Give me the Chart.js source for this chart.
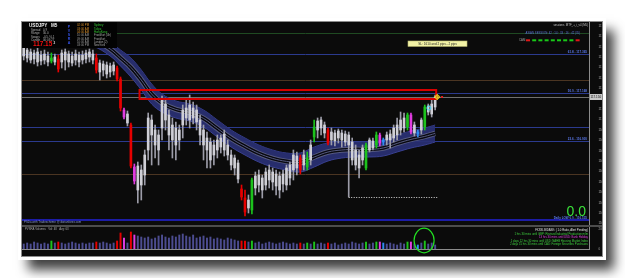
<!DOCTYPE html>
<html>
<head>
<meta charset="utf-8">
<script src="https://cdn.jsdelivr.net/npm/chart.js@4.4.1/dist/chart.umd.min.js"></script>
<style>
html, body { margin: 0; padding: 0; background: #fff; }
body { width: 625px; height: 278px; position: relative; overflow: hidden; }
#shot {
  position: absolute; left: 21px; top: 21px; width: 580px; height: 234px;
  background: #0b0b0b; border: 1px solid #8c8c8c;
  box-shadow: 0 0 0 3px #fff, 9px 11px 11px 2px rgba(0, 0, 0, 0.75);
}
#main { position: absolute; left: 0; top: 0; }
#sep { position: absolute; left: 0; top: 203px; width: 580px; height: 2px; background: #4c4c4c; }
#vol { position: absolute; left: 0; top: 205px; }
</style>
</head>
<body>
<div id="shot">
  <canvas id="main" width="580" height="203"></canvas>
  <div id="sep"></div>
  <canvas id="vol" width="580" height="29"></canvas>
</div>
<script>
// USDJPY M5, 15 Jan 2016 - candles
var opens = [
  117.395, 117.385, 117.375, 117.370, 117.375, 117.360, 117.365, 117.355, 117.330, 117.350,
  117.340, 117.370, 117.375, 117.365, 117.355, 117.365, 117.360, 117.360, 117.370, 117.375,
  117.365, 117.345, 117.320, 117.315, 117.310, 117.305, 117.310, 117.295, 117.240, 117.085,
  117.065, 117.010, 116.800, 116.805, 116.785, 116.860, 117.045, 117.035, 116.985, 116.960,
  117.135, 117.115, 117.060, 117.010, 116.995, 116.985, 117.085, 117.095, 117.110, 117.095,
  117.085, 117.035, 116.985, 116.945, 116.925, 116.910, 116.935, 116.945, 116.965, 116.910,
  116.860, 116.845, 116.820, 116.690, 116.645, 116.635, 116.585, 116.755, 116.760, 116.745,
  116.775, 116.785, 116.775, 116.765, 116.755, 116.765, 116.795, 116.810, 116.860, 116.855,
  116.845, 116.860, 116.800, 116.910, 116.950, 117.030, 117.035, 117.010, 116.985, 116.975,
  116.970, 116.980, 116.970, 116.965, 116.960, 116.925, 116.885, 116.860, 116.895, 116.795,
  116.935, 116.930, 116.910, 116.960, 116.935, 116.960, 116.965, 116.995, 117.010, 117.035,
  117.045, 117.000, 117.060, 117.010, 116.975, 117.035, 117.000, 117.105, 117.115, 117.100
];
var highs = [
  117.410, 117.400, 117.390, 117.385, 117.395, 117.380, 117.385, 117.375, 117.370, 117.365,
  117.360, 117.385, 117.390, 117.380, 117.375, 117.385, 117.375, 117.380, 117.385, 117.390,
  117.385, 117.365, 117.335, 117.330, 117.325, 117.320, 117.325, 117.305, 117.250, 117.095,
  117.080, 117.020, 116.815, 116.825, 116.810, 116.885, 117.070, 117.060, 117.010, 116.985,
  117.155, 117.145, 117.085, 117.045, 117.025, 117.010, 117.110, 117.135, 117.160, 117.125,
  117.110, 117.060, 117.010, 116.975, 116.945, 116.935, 116.960, 116.960, 116.985, 116.935,
  116.885, 116.860, 116.835, 116.710, 116.685, 116.660, 116.745, 116.775, 116.785, 116.760,
  116.795, 116.810, 116.795, 116.785, 116.775, 116.785, 116.810, 116.825, 116.885, 116.875,
  116.860, 116.885, 116.875, 116.935, 117.035, 117.045, 117.050, 117.025, 116.995, 116.995,
  116.985, 116.990, 116.985, 116.980, 116.975, 116.945, 116.910, 116.885, 116.910, 116.920,
  116.945, 116.945, 116.975, 116.970, 116.945, 116.975, 116.985, 117.010, 117.045, 117.075,
  117.070, 117.070, 117.070, 117.025, 116.985, 117.045, 117.110, 117.115, 117.135, 117.160
];
var lows = [
  117.335, 117.325, 117.320, 117.315, 117.305, 117.310, 117.315, 117.305, 117.320, 117.310,
  117.275, 117.295, 117.285, 117.300, 117.305, 117.310, 117.300, 117.315, 117.320, 117.325,
  117.315, 117.270, 117.235, 117.255, 117.245, 117.250, 117.260, 117.230, 117.080, 117.040,
  117.005, 116.795, 116.715, 116.620, 116.635, 116.710, 116.835, 116.810, 116.845, 116.810,
  116.935, 116.985, 116.885, 116.845, 116.835, 116.885, 116.945, 117.010, 116.995, 117.015,
  116.985, 116.910, 116.835, 116.795, 116.795, 116.810, 116.845, 116.870, 116.855, 116.835,
  116.785, 116.760, 116.720, 116.635, 116.555, 116.570, 116.565, 116.660, 116.675, 116.645,
  116.685, 116.695, 116.685, 116.660, 116.645, 116.675, 116.685, 116.710, 116.735, 116.760,
  116.765, 116.785, 116.785, 116.810, 116.925, 116.945, 116.960, 116.945, 116.910, 116.910,
  116.905, 116.920, 116.900, 116.905, 116.650, 116.810, 116.785, 116.745, 116.810, 116.785,
  116.875, 116.885, 116.895, 116.905, 116.910, 116.910, 116.895, 116.925, 116.935, 116.960,
  116.975, 116.985, 116.965, 116.955, 116.950, 116.965, 116.985, 117.060, 117.050, 117.085
];
var closes = [
  117.355, 117.345, 117.335, 117.340, 117.325, 117.330, 117.335, 117.325, 117.345, 117.325,
  117.290, 117.325, 117.335, 117.325, 117.320, 117.335, 117.325, 117.335, 117.340, 117.350,
  117.335, 117.285, 117.275, 117.285, 117.265, 117.275, 117.280, 117.240, 117.095, 117.050,
  117.020, 116.805, 116.730, 116.685, 116.710, 116.760, 116.885, 116.960, 116.910, 116.885,
  116.995, 117.035, 116.960, 116.935, 116.910, 116.935, 117.010, 117.045, 117.035, 117.045,
  117.025, 116.960, 116.910, 116.885, 116.835, 116.860, 116.885, 116.900, 116.885, 116.860,
  116.810, 116.795, 116.740, 116.650, 116.575, 116.595, 116.735, 116.695, 116.710, 116.685,
  116.710, 116.735, 116.725, 116.705, 116.685, 116.715, 116.710, 116.745, 116.785, 116.795,
  116.785, 116.810, 116.845, 116.835, 117.000, 116.985, 116.995, 116.970, 116.920, 116.935,
  116.930, 116.945, 116.935, 116.925, 116.910, 116.835, 116.810, 116.795, 116.835, 116.910,
  116.885, 116.895, 116.960, 116.920, 116.925, 116.935, 116.935, 116.945, 116.960, 116.985,
  116.995, 117.060, 116.975, 116.970, 116.965, 116.985, 117.100, 117.075, 117.065, 117.150
];
// PVSRA class of each bar: n normal, r/g climax, m/b rising volume
var pvsra = [
  'n','n','n','n','n','n','n','n','g','n',
  'r','n','n','n','n','n','n','n','n','n',
  'n','r','n','n','n','n','n','r','r','m',
  'n','r','m','n','n','n','n','n','n','n',
  'n','n','n','n','n','n','n','n','n','n',
  'n','n','n','n','n','n','n','n','n','n',
  'n','n','n','r','r','n','g','n','n','n',
  'n','n','n','n','n','n','n','n','n','n',
  'r','n','g','n','g','n','n','n','r','n',
  'n','n','n','n','n','n','n','n','n','g',
  'n','n','g','m','b','n','n','n','n','n',
  'n','g','m','n','b','n','g','n','n','n'
];
var volumes = [
  50, 60, 50, 70, 60, 50, 60, 50, 80, 60,
  70, 60, 50, 60, 70, 60, 50, 60, 50, 60,
  60, 70, 60, 70, 60, 50, 60, 80, 160, 110,
  60, 170, 140, 130, 120, 110, 120, 100, 110, 130,
  140, 120, 110, 130, 120, 140, 150, 130, 120, 140,
  110, 120, 130, 110, 120, 100, 110, 100, 90, 110,
  100, 90, 80, 80, 80, 70, 80, 60, 70, 50,
  60, 70, 60, 50, 60, 70, 60, 50, 60, 50,
  60, 50, 60, 50, 70, 50, 60, 50, 60, 50,
  60, 40, 50, 60, 50, 70, 60, 50, 60, 70,
  50, 60, 70, 70, 60, 50, 60, 50, 40, 60,
  50, 70, 70, 50, 40, 60, 80, 50, 60, 40
];

// moving-average envelope, sampled along the bars
var bandIdx = [0, 5, 10, 15, 20, 25, 28, 31, 34, 37, 40, 44, 48, 52, 56, 60, 64, 68, 72, 76, 80, 84, 88, 92, 96, 100, 104, 108, 112, 116, 119];
var bandUpper = [117.545, 117.535, 117.520, 117.500, 117.475, 117.425, 117.385, 117.345, 117.285, 117.215, 117.165, 117.130, 117.115, 117.085, 117.035, 116.985, 116.945, 116.910, 116.885, 116.870, 116.870, 116.900, 116.920, 116.925, 116.925, 116.925, 116.935, 116.960, 116.980, 116.995, 117.010];
var bandLower = [117.455, 117.445, 117.435, 117.425, 117.405, 117.355, 117.305, 117.250, 117.185, 117.115, 117.075, 117.045, 117.030, 117.000, 116.950, 116.900, 116.860, 116.825, 116.800, 116.785, 116.775, 116.800, 116.830, 116.845, 116.850, 116.850, 116.855, 116.875, 116.895, 116.910, 116.925];
var bandMid = [117.500, 117.490, 117.478, 117.463, 117.440, 117.390, 117.345, 117.298, 117.235, 117.165, 117.120, 117.088, 117.073, 117.043, 116.993, 116.943, 116.903, 116.868, 116.843, 116.828, 116.823, 116.850, 116.875, 116.885, 116.888, 116.888, 116.895, 116.918, 116.938, 116.953, 116.968];

var priceTicks = [117.505, 117.453, 117.401, 117.349, 117.297, 117.245, 117.193, 117.089, 117.037, 116.985, 116.933, 116.881, 116.829, 116.777, 116.725, 116.673, 116.621, 116.569, 116.517];
var volTicks = [0, 200];
var timeIdx = [0, 5, 11, 16, 21, 27, 32, 37, 42, 48, 53, 58, 64, 69, 74, 80, 85, 90, 95, 101, 106, 111, 117];
var timeLabels = ['15 Jan 2016', '15 Jan 10:25', '15 Jan 10:55', '15 Jan 11:20', '15 Jan 11:45', '15 Jan 12:15', '15 Jan 12:40', '15 Jan 13:05', '15 Jan 13:30', '15 Jan 14:00', '15 Jan 14:25', '15 Jan 14:50', '15 Jan 15:20', '15 Jan 15:45', '15 Jan 16:10', '15 Jan 16:40', '15 Jan 17:05', '15 Jan 17:30', '15 Jan 17:55', '15 Jan 18:25', '15 Jan 18:50', '15 Jan 19:15', '15 Jan 19:45'];

// horizontal levels (fibo + pivots)
var levelPrices = [117.470, 117.365, 117.235, 117.168, 117.000, 116.930, 116.765, 116.535];
var fibLevel = [1, 3, 5, 7];
var fibText = ['61.8 - 117.365', '50.0 - 117.168', '23.6 - 116.930', 'Daily LOW 0.0 - 116.535'];
var bidPrice = 117.150;
var zoneHigh = 117.185, zoneLow = 117.140, zoneFrom = 33.5, zoneTo = 119.3;
var lowMarkPrice = 116.650, lowMarkFrom = 94, lowMarkTo = 119.6;

var sessions = ['Sydney', 'Tokyo', 'HongKong', 'Frankfurt (4h)', 'Frankfurt', 'London (2)', 'NewYork'];
var sessionTimes = ['02:00 PM', '03:00 AM', '04:00 AM', '10:00 AM', '09:00 AM', '10:00 AM', '03:00 PM'];
var newsLines = [
  'FXSSI.BIDASK: ( 1.0 Ratio, Alert Pending)',
  '1 hrs 30 mins until GBP: Revised Industrial Production m/m',
  '13 hrs 30 mins until USD: Bank Holiday',
  '1 days 12 hrs 30 mins until USD: NAHB Housing Market Index',
  '2 days 15 hrs 30 mins until CAD: Foreign Securities Purchases'
];

// ---- styles ----
var FONT = '"Liberation Sans", Arial, sans-serif';
var bodyCol = { n: '#cfcfd6', r: '#e60000', g: '#1cc21c', m: '#e03ce0', b: '#2f8cf2' };
var wickCol = { n: '#9c9ca8', r: '#e60000', g: '#1cc21c', m: '#e03ce0', b: '#2f8cf2' };
var volCol = { n: '#4c4c90', r: '#e60000', g: '#1cc21c', m: '#e03ce0', b: '#2f8cf2' };
var levelColors = ['#1f4a22', '#2b3a8e', '#4b3522', '#2b3a8e', '#2b3a8e', '#2b3a8e', '#4b3522', '#1c1ca6'];
var levelWidths = [1, 1, 1, 1, 1, 1, 1, 2];

var slots = [];
for (var s = 0; s < 164; s++) slots.push(String(s));

function pts(vals) {
  return bandIdx.map(function (k, j) { return { x: String(k), y: vals[j] }; });
}

function txt(ctx, str, x, y, color, size, bold, align) {
  ctx.font = (bold ? 'bold ' : '') + size + 'px ' + FONT;
  ctx.fillStyle = color;
  ctx.textAlign = align || 'left';
  ctx.textBaseline = 'middle';
  ctx.fillText(str, x, y);
}

var mainOverlay = {
  id: 'mainOverlay',
  beforeDatasetsDraw: function (chart) {
    var ctx = chart.ctx, a = chart.chartArea, y = chart.scales.y;
    ctx.save();
    levelPrices.forEach(function (p, k) {
      var py = Math.round(y.getPixelForValue(p)) + (levelWidths[k] % 2 ? 0.5 : 0);
      ctx.strokeStyle = levelColors[k];
      ctx.lineWidth = levelWidths[k];
      ctx.beginPath(); ctx.moveTo(a.left, py); ctx.lineTo(a.right, py); ctx.stroke();
    });
    var by = Math.round(y.getPixelForValue(bidPrice)) + 0.5;
    ctx.strokeStyle = '#707070'; ctx.lineWidth = 1;
    ctx.beginPath(); ctx.moveTo(a.left, by); ctx.lineTo(a.right, by); ctx.stroke();
    ctx.restore();
  },
  afterDatasetsDraw: function (chart) {
    var ctx = chart.ctx, x = chart.scales.x, y = chart.scales.y;
    ctx.save();
    // supply zone box
    var x0 = x.getPixelForValue(zoneFrom), x1 = x.getPixelForValue(zoneTo);
    var y0 = y.getPixelForValue(zoneHigh), y1 = y.getPixelForValue(zoneLow);
    ctx.strokeStyle = '#d80000'; ctx.lineWidth = 2;
    ctx.strokeRect(x0, y0, x1 - x0, y1 - y0);
    // dotted low line
    var dy = Math.round(y.getPixelForValue(lowMarkPrice)) + 0.5;
    ctx.setLineDash([1, 1.5]); ctx.strokeStyle = '#d8d8d8'; ctx.lineWidth = 1;
    ctx.beginPath(); ctx.moveTo(x.getPixelForValue(lowMarkFrom), dy); ctx.lineTo(x.getPixelForValue(lowMarkTo), dy); ctx.stroke();
    ctx.setLineDash([]);
    // signal markers
    ctx.strokeStyle = '#48d6f6'; ctx.lineWidth = 1;
    ctx.beginPath(); ctx.arc(x.getPixelForValue(117.2), y.getPixelForValue(117.095), 2, 0, Math.PI * 2); ctx.stroke();
    var mx = x.getPixelForValue(119.6), my = y.getPixelForValue(bidPrice);
    ctx.strokeStyle = '#f0d020';
    ctx.beginPath(); ctx.arc(mx, my, 2, 0, Math.PI * 2); ctx.stroke();
    ctx.beginPath(); ctx.moveTo(mx - 3, my); ctx.lineTo(mx + 3, my); ctx.moveTo(mx, my - 3); ctx.lineTo(mx, my + 3); ctx.stroke();
    ctx.fillStyle = '#e02020';
    ctx.fillRect(x.getPixelForValue(121) - 1, my - 1, 2, 2);
    ctx.restore();
  },
  afterDraw: function (chart) {
    var ctx = chart.ctx, a = chart.chartArea, y = chart.scales.y;
    ctx.save();
    // info panel
    ctx.fillStyle = '#030303';
    ctx.fillRect(0, 0, 95, 26);
    txt(ctx, 'USDJPY', 7, 3.8, '#f0f0f0', 4.6, true);
    txt(ctx, 'M5', 29, 3.8, '#f0f0f0', 4.6, true);
    var rowL = ['Spread', 'Range', 'Swaps', 'Candle'];
    var rowV = ['0.9', '30.0', '-0.5 / 0.1', '00:03:27'];
    rowL.forEach(function (l, k) {
      txt(ctx, l, 9, 7.8 + k * 3.5, '#b4b4b4', 2.9);
      txt(ctx, rowV[k], 21, 7.8 + k * 3.5, '#b4b4b4', 2.9);
    });
    txt(ctx, '117.15', 11, 22.2, '#f01010', 6.4, true);
    txt(ctx, '2', 31.5, 21, '#e0e0e0', 3, true);
    ['P', 'V', 'S', 'R', 'A'].forEach(function (c, k) {
      txt(ctx, c, 47, 5 + k * 4, '#3552e6', 3.6, true, 'center');
    });
    sessions.forEach(function (n, k) {
      var yy = 3.4 + k * 3.35;
      txt(ctx, sessionTimes[k], 55, yy, k < 3 ? '#d8902c' : '#9a9a9a', 2.8);
      txt(ctx, n, 72, yy, k < 3 ? '#34c834' : '#a8a8a8', 2.8);
    });
    // top right indicator texts
    txt(ctx, 'sessions_MTF_+_i_v4 (M5)', 566, 3.2, '#c4c4c4', 2.8, false, 'right');
    txt(ctx, 'ASIAN SESSION: 42 · 14 · 33 · 16 · 42 (35)', 558, 11, '#5a72d6', 2.8, false, 'right');
    txt(ctx, 'CAM', 497, 18.2, '#a0a0a0', 2.8);
    var camCols = ['#e01818', '#18c818', '#18c818', '#18c818', '#18c818', '#18c818', '#18c818', '#18c818', '#e01818'];
    camCols.forEach(function (c, k) {
      ctx.fillStyle = c;
      ctx.fillRect(504 + k * 6.2, 17.3, 4, 2);
    });
    ctx.fillStyle = '#f2f2a6';
    ctx.fillRect(386, 19, 59, 5.4);
    ctx.strokeStyle = '#b8b870'; ctx.lineWidth = 0.6;
    ctx.strokeRect(386, 19, 59, 5.4);
    txt(ctx, 'SL: 1610 and 2 pips - 2 pips', 415.5, 21.8, '#202020', 3.1, false, 'center');
    // fibo labels
    fibLevel.forEach(function (k, j) {
      txt(ctx, fibText[j], a.right - 2, y.getPixelForValue(levelPrices[k]) - 2, '#5a78ea', 3, true, 'right');
    });
    txt(ctx, '0.0', a.right - 3, 190, '#3ae03a', 14, false, 'right');
    txt(ctx, 'PSDa with Tradescheme @ dorianforex.com', 2, 200.4, '#8898d0', 2.9);
    // bid price box on the axis
    var by = y.getPixelForValue(bidPrice);
    ctx.fillStyle = '#c6c6c6';
    ctx.fillRect(a.right + 1, by - 3, 12, 6);
    txt(ctx, bidPrice.toFixed(3), a.right + 1.5, by, '#101010', 3);
    ctx.restore();
  }
};

var volOverlay = {
  id: 'volOverlay',
  afterDraw: function (chart) {
    var ctx = chart.ctx, a = chart.chartArea, x = chart.scales.x;
    ctx.save();
    txt(ctx, 'PVSRA Volumes   Vol: 48   Avg: 63', 3, 2, '#a8a8a8', 2.8);
    var newsCol = ['#e4e4e4', '#3ed03e', '#e040e0', '#3ed03e', '#3ed03e'];
    newsLines.forEach(function (l, k) {
      txt(ctx, l, a.right - 1, 3.7 + k * 3.4, newsCol[k], 2.8, false, 'right');
    });
    ctx.strokeStyle = '#22e022'; ctx.lineWidth = 1.2;
    ctx.beginPath();
    ctx.ellipse(x.getPixelForValue(115.8), a.top + 13.5, 10, 12.3, 0, 0, Math.PI * 2);
    ctx.stroke();
    ctx.restore();
  }
};

var common = {
  responsive: false,
  animation: false,
  devicePixelRatio: 1,
  events: [],
  layout: { padding: 0 },
  plugins: { legend: { display: false }, tooltip: { enabled: false } }
};

new Chart(document.getElementById('main'), {
  type: 'bar',
  data: {
    labels: slots,
    datasets: [
      { type: 'line', data: pts(bandUpper), borderColor: '#394090', borderWidth: 1, pointRadius: 0, tension: 0.4, fill: false, order: 10 },
      { type: 'line', data: pts(bandLower), borderColor: '#394090', borderWidth: 1, pointRadius: 0, tension: 0.4, fill: '-1', backgroundColor: 'rgba(42,48,116,0.93)', order: 9 },
      { type: 'line', data: pts(bandMid), borderColor: '#565a80', borderWidth: 5.5, pointRadius: 0, tension: 0.4, fill: false, order: 8 },
      { type: 'line', data: pts(bandMid), borderColor: '#08080e', borderWidth: 3.6, pointRadius: 0, tension: 0.4, fill: false, order: 7 },
      { type: 'line', data: pts(bandMid), borderColor: '#565a80', borderWidth: 1, pointRadius: 0, tension: 0.4, fill: false, order: 6 },
      { data: highs.map(function (h, i) { return [lows[i], h]; }), backgroundColor: pvsra.map(function (k) { return wickCol[k]; }), barThickness: 1, grouped: false, order: 2 },
      { data: opens.map(function (o, i) { return [o, closes[i]]; }), backgroundColor: pvsra.map(function (k) { return bodyCol[k]; }), barThickness: 2, minBarLength: 1, grouped: false, order: 1 }
    ]
  },
  options: Object.assign({}, common, {
    scales: {
      x: { display: false, offset: true },
      y: {
        position: 'right', min: 116.51, max: 117.525,
        afterBuildTicks: function (sc) { sc.ticks = priceTicks.map(function (v) { return { value: v }; }); },
        afterFit: function (sc) { sc.width = 13; sc.paddingTop = 0; sc.paddingBottom = 0; },
        grid: { display: false },
        border: { display: true, color: '#8c8c8c' },
        ticks: { color: '#a8a8a8', font: { size: 3, family: FONT }, padding: 1.5, autoSkip: false,
          callback: function (v) { return v.toFixed(3); } }
      }
    }
  }),
  plugins: [mainOverlay]
});

new Chart(document.getElementById('vol'), {
  type: 'bar',
  data: {
    labels: slots,
    datasets: [
      { data: volumes, backgroundColor: pvsra.map(function (k) { return volCol[k]; }), barThickness: 1.3 }
    ]
  },
  options: Object.assign({}, common, {
    scales: {
      x: {
        offset: true,
        afterBuildTicks: function (sc) { sc.ticks = timeIdx.map(function (v) { return { value: v }; }); },
        afterFit: function (sc) { sc.height = 7; sc.paddingLeft = 0; sc.paddingRight = 0; },
        grid: { display: false },
        border: { display: true, color: '#8c8c8c' },
        ticks: { autoSkip: false, minRotation: 0, maxRotation: 0, align: 'start', padding: 1.5, color: '#a0a0a0',
          font: { size: 2.7, family: FONT },
          callback: function (v, i) { return timeLabels[i]; } }
      },
      y: {
        position: 'right', min: 0, max: 220,
        afterBuildTicks: function (sc) { sc.ticks = volTicks.map(function (v) { return { value: v }; }); },
        afterFit: function (sc) { sc.width = 13; sc.paddingTop = 0; sc.paddingBottom = 0; },
        grid: { display: false },
        border: { display: true, color: '#8c8c8c' },
        ticks: { color: '#a8a8a8', font: { size: 3, family: FONT }, padding: 1.5, autoSkip: false }
      }
    }
  }),
  plugins: [volOverlay]
});
</script>
</body>
</html>
